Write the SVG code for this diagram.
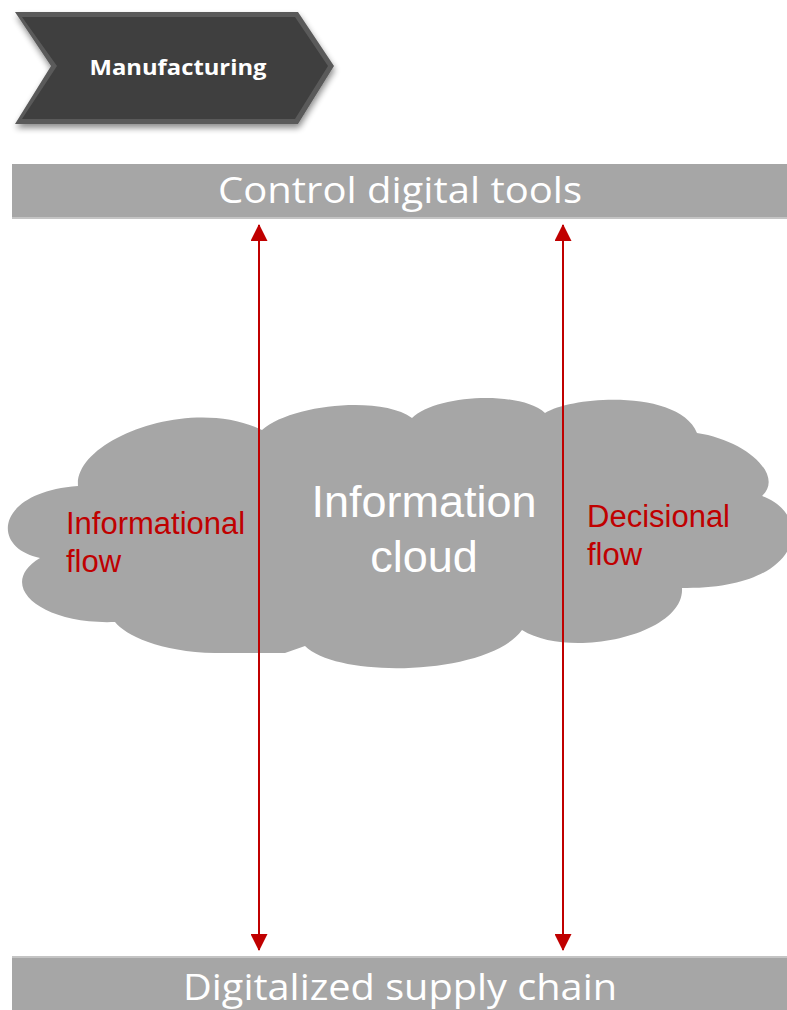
<svg xmlns="http://www.w3.org/2000/svg" width="787" height="1010" viewBox="0 0 787 1010">
<style>
.bar{fill:#a6a6a6}
.bartxt{font-family:"Open Sans","Liberation Sans",sans-serif;font-size:36px;fill:#ffffff;text-anchor:middle}
.red{font-family:"Liberation Sans",Arial,sans-serif;font-size:31px;fill:#c00000}
.cloudtxt{font-family:"Liberation Sans",Arial,sans-serif;font-size:45px;fill:#ffffff;text-anchor:middle}
.arrow{stroke:#c00000;stroke-width:2;fill:none;marker-start:url(#ah);marker-end:url(#ah)}
</style>
<defs>
<marker id="ah" viewBox="0 0 17 17" refX="16" refY="8.5" markerWidth="17" markerHeight="17" markerUnits="userSpaceOnUse" orient="auto-start-reverse">
<path d="M0,0 L17,8.5 L0,17 Z" fill="#c00000"/>
</marker>
<filter id="sh" x="-10%" y="-10%" width="130%" height="140%">
<feGaussianBlur in="SourceAlpha" stdDeviation="3"/>
<feOffset dx="1" dy="4"/>
<feComponentTransfer><feFuncA type="linear" slope="0.45"/></feComponentTransfer>
<feMerge><feMergeNode/><feMergeNode in="SourceGraphic"/></feMerge>
</filter>
</defs>
<g id="manufacturing">
<polygon points="15,12 298,12 334,66 298,124 15,124 51,66" fill="#5a5a5a" filter="url(#sh)"/>
<polygon points="22,17 295,17 328,66 295,119 22,119 57,66" fill="#3f3f3f"/>
<text x="178" y="75" font-family="'Open Sans','Liberation Sans',sans-serif" font-size="21" font-weight="bold" fill="#ffffff" text-anchor="middle" textLength="177" lengthAdjust="spacingAndGlyphs">Manufacturing</text>
</g>
<g id="control-tools">
<rect class="bar" x="12" y="164" width="775" height="55"/>
<rect x="12" y="217" width="775" height="2" fill="#c4c4c4"/>
<text class="bartxt" x="400" y="203" textLength="364" lengthAdjust="spacingAndGlyphs">Control digital tools</text>
</g>
<g id="information-cloud">
<path fill="#a6a6a6" d="M78,486 C74,440 190,395 262,430 C290,405 380,395 412,418 C435,395 520,390 545,413 C575,395 680,390 697,433 C745,440 785,475 762,496 C815,515 805,590 682,588 C685,635 570,660 522,630 C490,675 340,680 305,646 L285,653 L215,653 C160,652 125,635 115,622 C40,625 -5,585 40,558 C-10,548 -5,492 78,486 Z"/>
<text class="cloudtxt" x="424" y="517">Information</text>
<text class="cloudtxt" x="424" y="572">cloud</text>
</g>
<g id="supply-chain">
<rect class="bar" x="12" y="956" width="775" height="54"/>
<rect x="12" y="956" width="775" height="2" fill="#c4c4c4"/>
<text class="bartxt" x="400" y="1000" textLength="434" lengthAdjust="spacingAndGlyphs">Digitalized supply chain</text>
</g>
<g id="connectors">
<line class="arrow" x1="259" y1="225" x2="259" y2="950"/>
<line class="arrow" x1="563" y1="225" x2="563" y2="950"/>
</g>
<g id="labels">
<text class="red" x="66" y="534">Informational</text>
<text class="red" x="66" y="572">flow</text>
<text class="red" x="587" y="527">Decisional</text>
<text class="red" x="587" y="565">flow</text>
</g>
</svg>
